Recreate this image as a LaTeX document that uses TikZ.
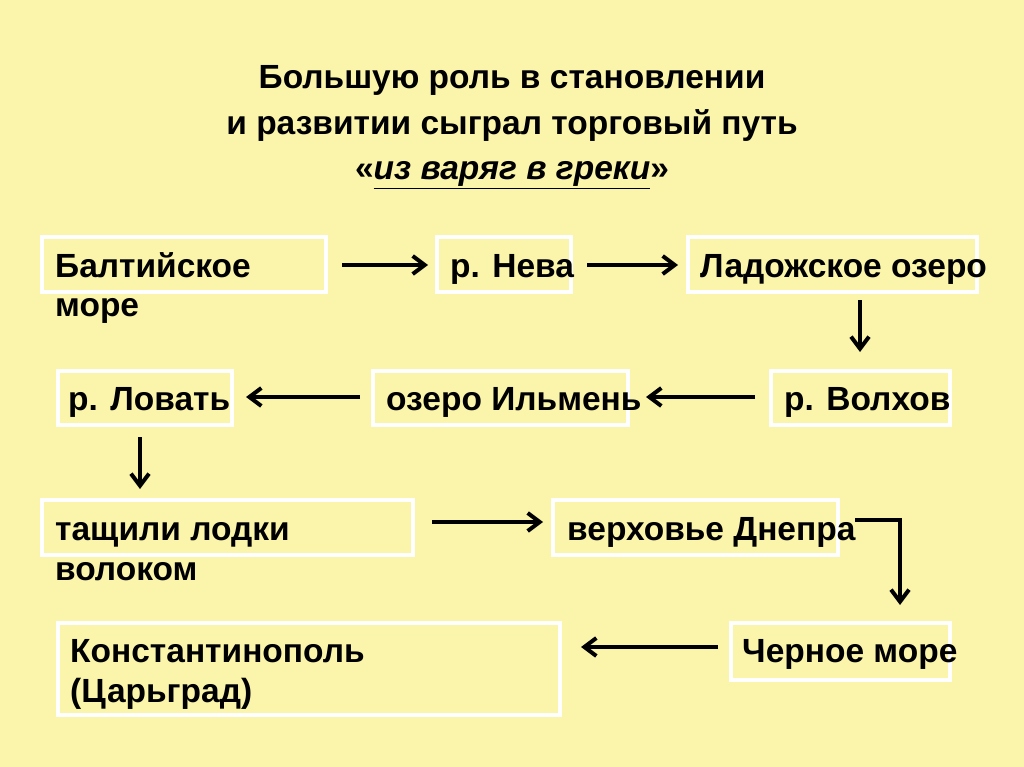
\documentclass[tikz,border=0pt]{standalone}
\usepackage{fontspec}
\setmainfont{Liberation Sans}
\usetikzlibrary{arrows.meta}
\definecolor{bg}{RGB}{250,245,170}
\begin{document}
\begin{tikzpicture}[x=1pt,y=-1pt,
  box/.style={draw=white,line width=4pt},
  lbl/.style={anchor=base west,font=\fontsize{33.5}{38}\selectfont\bfseries,inner sep=0pt},
  ttl/.style={anchor=base,font=\fontsize{33.5}{38}\selectfont\bfseries,inner sep=0pt},
  arr/.style={-{Straight Barb[length=12pt,width=18pt]},line width=4pt}]
\fill[bg] (0,0) rectangle (1024,767);
\useasboundingbox (0,0) rectangle (1024,767);
\node[ttl] (t1) at (512,89) {Большую роль в становлении};
\node[ttl] (t2) at (512,135) {и развитии сыграл торговый путь};
\node[ttl] (t3) at (512,180) {«\underline{\itshape из варяг в греки}»};
\draw[box] (42,237) rectangle (326,292);
\draw[box] (437,237) rectangle (571,292);
\draw[box] (688,237) rectangle (977,292);
\draw[box] (58,371) rectangle (232,425);
\draw[box] (373,371) rectangle (628,425);
\draw[box] (771,371) rectangle (950,425);
\draw[box] (42,500) rectangle (413,555);
\draw[box] (553,500) rectangle (838,555);
\draw[box] (58,623) rectangle (560,715);
\draw[box] (731,623) rectangle (950,680);
\node[lbl] (n1) at (55,277) {Балтийское};
\node[lbl] (n1b) at (55,316) {море};
\node[lbl] (n2) at (450,277) {р. Нева};
\node[lbl] (n3) at (700,277) {Ладожское озеро};
\node[lbl] (n4) at (68,410) {р. Ловать};
\node[lbl] (n5) at (386,410) {озеро Ильмень};
\node[lbl] (n6) at (784,410) {р. Волхов};
\node[lbl] (n7) at (55,540) {тащили лодки};
\node[lbl] (n7b) at (55,580) {волоком};
\node[lbl] (n9) at (70,662) {Константинополь};
\node[lbl] (n9b) at (70,702) {(Царьград)};
\node[lbl] (n8) at (567,540) {верховье Днепра};
\node[lbl] (n10) at (742,662) {Черное море};
\coordinate (a1) at (342,265); \coordinate (b1) at (428,265);
\coordinate (a2) at (587,265); \coordinate (b2) at (678,265);
\coordinate (a3) at (860,300); \coordinate (b3) at (860,352);
\coordinate (a4) at (755,397); \coordinate (b4) at (646,397);
\coordinate (a5) at (360,397); \coordinate (b5) at (246,397);
\coordinate (a6) at (140,437); \coordinate (b6) at (140,489);
\coordinate (a7) at (432,522); \coordinate (b7) at (543,522);
\coordinate (a8) at (855,520); \coordinate (b8) at (900,605);
\coordinate (a9) at (718,647); \coordinate (b9) at (581,647);
\foreach \i in {1,2,3,4,5,6,7,9} \draw[arr] (a\i) -- (b\i);
\draw[arr] (a8) -| (b8);
\end{tikzpicture}
\end{document}
